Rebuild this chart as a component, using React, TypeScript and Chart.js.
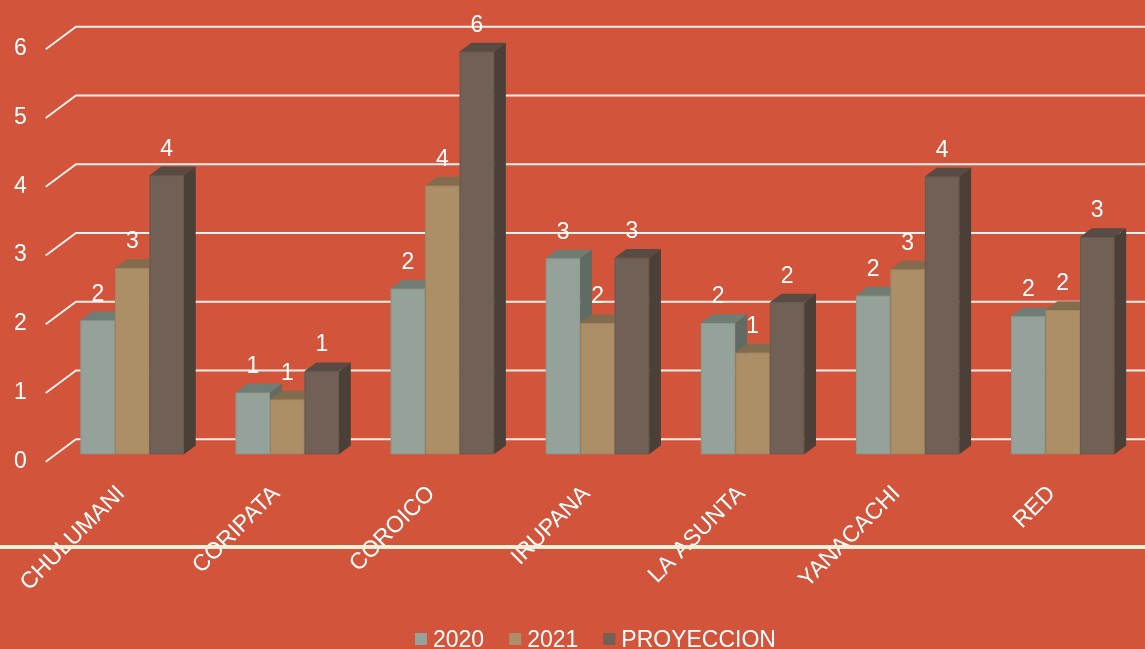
import React, { useEffect, useRef } from 'react';
import { Chart, registerables } from 'chart.js';

Chart.register(...registerables);

// ---- data ----
const categories = ['CHULUMANI', 'CORIPATA', 'COROICO', 'IRUPANA', 'LA ASUNTA', 'YANACACHI', 'RED'];
const seriesNames = ['2020', '2021', 'PROYECCION'];
const values2020 = [1.95, 0.9, 2.41, 2.85, 1.91, 2.31, 2.01];
const values2021 = [2.71, 0.8, 3.91, 1.91, 1.48, 2.69, 2.1];
const valuesProy = [4.06, 1.21, 5.86, 2.86, 2.21, 4.04, 3.16];
const yTicks = [0, 1, 2, 3, 4, 5, 6];

// ---- style ----
const W = 1145;
const H = 649;
const BG = '#D2543B';
const FONT = "'Liberation Sans', Arial, sans-serif";
const FRONT = ['#94A299', '#AD8F67', '#706056'];
const TOPC = ['#6F7D74', '#826C4D', '#574B44'];
const SIDE = ['#606B64', '#6F5C42', '#4A4037'];
const DX = 11.7;
const DY = 8.7;

const excel3d = {
  id: 'excel3d',
  beforeDraw(chart: any) {
    const ctx = chart.ctx;
    ctx.save();
    ctx.fillStyle = BG;
    ctx.fillRect(0, 0, chart.width, chart.height);
    ctx.restore();
  },
  beforeDatasetsDraw(chart: any) {
    const ctx = chart.ctx;
    const y = chart.scales.y;
    ctx.save();
    ctx.strokeStyle = '#F6F0EC';
    ctx.lineWidth = 2;
    ctx.lineCap = 'butt';
    yTicks.forEach((v) => {
      const py = y.getPixelForValue(v);
      const fy = py + 7.4;
      const by = py - 15;
      ctx.beginPath();
      ctx.moveTo(45.7, fy);
      ctx.lineTo(76, by);
      ctx.lineTo(chart.width, by);
      ctx.stroke();
    });
    ctx.restore();
  },
  afterDatasetsDraw(chart: any) {
    const ctx = chart.ctx;
    const bars: any[] = [];
    chart.data.datasets.forEach((ds: any, di: number) => {
      const meta = chart.getDatasetMeta(di);
      meta.data.forEach((el: any) => bars.push({ el, di }));
    });
    bars.sort((a, b) => a.el.x - b.el.x);
    ctx.save();
    bars.forEach(({ el, di }) => {
      const L = el.x - el.width / 2;
      const R = el.x + el.width / 2;
      const T = el.y;
      const B = el.base;
      // front
      ctx.fillStyle = FRONT[di];
      ctx.fillRect(L, T, R - L, B - T);
      ctx.strokeStyle = 'rgba(0,0,0,0.07)';
      ctx.lineWidth = 1;
      ctx.strokeRect(L + 0.5, T + 0.5, R - L - 1, B - T - 1);
      // top
      ctx.fillStyle = TOPC[di];
      ctx.beginPath();
      ctx.moveTo(L, T);
      ctx.lineTo(R, T);
      ctx.lineTo(R + DX, T - DY);
      ctx.lineTo(L + DX, T - DY);
      ctx.closePath();
      ctx.fill();
      // side
      ctx.fillStyle = SIDE[di];
      ctx.beginPath();
      ctx.moveTo(R, T);
      ctx.lineTo(R + DX, T - DY);
      ctx.lineTo(R + DX, B - DY);
      ctx.lineTo(R, B);
      ctx.closePath();
      ctx.fill();
    });
    ctx.restore();
  },
  afterDraw(chart: any) {
    const ctx = chart.ctx;
    ctx.save();
    // value labels
    ctx.fillStyle = '#FFFFFF';
    ctx.font = `23px ${FONT}`;
    ctx.textAlign = 'center';
    ctx.textBaseline = 'middle';
    chart.data.datasets.forEach((ds: any, di: number) => {
      const meta = chart.getDatasetMeta(di);
      meta.data.forEach((el: any, i: number) => {
        ctx.fillText(String(Math.round(ds.data[i])), el.x, el.y - 26);
      });
    });
    // cream separator line
    ctx.fillStyle = '#F4EFD6';
    ctx.fillRect(0, 545, chart.width, 4);
    // legend
    ctx.font = `23px ${FONT}`;
    ctx.textAlign = 'left';
    ctx.textBaseline = 'alphabetic';
    let x = 415;
    seriesNames.forEach((name, i) => {
      ctx.fillStyle = FRONT[i];
      ctx.fillRect(x, 633, 12, 12);
      ctx.fillStyle = '#FFFFFF';
      ctx.fillText(name, x + 18, 647);
      x += 18 + ctx.measureText(name).width + 25;
    });
    ctx.restore();
  },
};

export default function App() {
  const ref = useRef<HTMLCanvasElement | null>(null);
  useEffect(() => {
    document.body.style.margin = '0';
    document.body.style.background = BG;
    const canvas = ref.current;
    if (!canvas) return;
    const chart = new Chart(canvas, {
      type: 'bar',
      data: {
        labels: categories,
        datasets: [
          { label: seriesNames[0], data: values2020, backgroundColor: FRONT[0] },
          { label: seriesNames[1], data: values2021, backgroundColor: FRONT[1] },
          { label: seriesNames[2], data: valuesProy, backgroundColor: FRONT[2] },
        ],
      },
      options: {
        responsive: false,
        animation: false,
        devicePixelRatio: 1,
        datasets: { bar: { categoryPercentage: 0.667, barPercentage: 1 } },
        layout: { padding: { left: 0, right: 4.7, top: 35.2, bottom: 0 } },
        plugins: { legend: { display: false }, tooltip: { enabled: false } },
        scales: {
          x: {
            grid: { display: false, drawTicks: false },
            border: { display: false },
            ticks: {
              color: '#FFFFFF',
              font: { family: FONT, size: 23 },
              minRotation: 45,
              maxRotation: 45,
              autoSkip: false,
              padding: 26,
              labelOffset: -11,
            },
            afterFit: (s: any) => {
              s.height = H - 454.3;
            },
          },
          y: {
            min: 0,
            max: 6,
            grid: { display: false, drawTicks: false },
            border: { display: false },
            ticks: {
              stepSize: 1,
              color: '#FFFFFF',
              font: { family: FONT, size: 23 },
              padding: 28,
              labelOffset: 7,
            },
            afterFit: (s: any) => {
              s.width = 54.75;
            },
          },
        },
      },
      plugins: [excel3d],
    } as any);
    return () => chart.destroy();
  }, []);
  return (
    <div style={{ width: W, height: H }}>
      <canvas ref={ref} width={W} height={H} style={{ display: 'block', width: W, height: H }} />
    </div>
  );
}
